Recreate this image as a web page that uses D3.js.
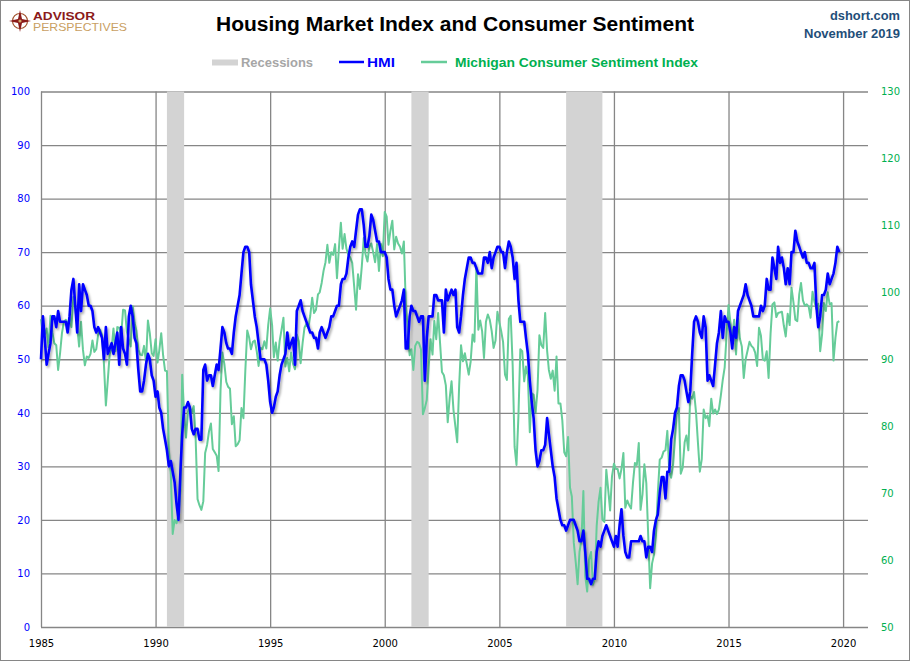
<!DOCTYPE html>
<html>
<head>
<meta charset="utf-8">
<script src="https://cdn.jsdelivr.net/npm/d3@7"></script>
<style>
  body { margin: 0; background: #fff; }
  svg { display: block; }
</style>
</head>
<body>
<svg id="chart"></svg>
<script>
// Housing Market Index vs Michigan Consumer Sentiment, monthly from Jan 1985

const W = 910, H = 661;
const START_YEAR = 1985;

// NAHB Housing Market Index (left axis), one row per year
const hmi = [
  50, 58, 54, 49, 51, 53, 58, 58, 56, 59, 57, 57,
  57, 57, 55, 58, 63, 65, 60, 55, 64, 59, 64, 63,
  62, 60, 60, 59, 56, 55, 56, 55, 54, 50, 56, 51,
  52, 53, 51, 53, 55, 49, 56, 52, 51, 49, 58, 60,
  58, 54, 53, 48, 44, 44, 46, 49, 51, 50, 47, 46,
  43, 44, 41, 40, 37, 35, 33, 30, 31, 29, 27, 23,
  20, 29, 36, 41, 41, 42, 41, 37, 36, 37, 37, 35,
  35, 48, 49, 46, 47, 47, 45, 47, 49, 48, 52, 56,
  55, 53, 52, 52, 51, 55, 58, 60, 62, 66, 70, 71,
  71, 70, 64, 61, 58, 56, 53, 50, 50, 50, 49, 46,
  42, 40, 41, 43, 44, 47, 49, 50, 51, 55, 52, 53,
  54, 49, 59, 60, 61, 59, 58, 57, 56, 55, 55, 54,
  54, 52, 55, 56, 55, 54, 55, 56, 58, 58, 59, 60,
  60, 64, 65, 65, 66, 69, 71, 72, 71, 74, 77, 78,
  78, 75, 71, 71, 73, 77, 76, 74, 72, 72, 70, 70,
  70, 69, 65, 63, 63, 60, 58, 59, 60, 61, 63, 52,
  52, 58, 60, 59, 59, 58, 57, 58, 58, 46, 54, 58,
  58, 58, 62, 62, 61, 61, 61, 55, 63, 61, 62, 63,
  62, 63, 56, 55, 58, 62, 65, 67, 69, 69, 68, 68,
  67, 66, 66, 66, 69, 69, 68, 70, 67, 69, 70, 71,
  71, 70, 70, 67, 70, 72, 71, 69, 65, 68, 61, 57,
  57, 57, 54, 51, 46, 42, 39, 33, 30, 31, 33, 33,
  34, 39, 36, 33, 30, 28, 24, 22, 20, 19, 19, 18,
  19, 20, 20, 20, 19, 18, 16, 16, 18, 14, 9, 9,
  8, 9, 9, 14, 16, 15, 17, 18, 19, 18, 17, 16,
  15, 17, 15, 19, 22, 17, 14, 13, 13, 16, 16, 16,
  16, 16, 17, 16, 16, 13, 15, 15, 14, 18, 20, 21,
  25, 28, 28, 24, 29, 29, 35, 37, 40, 41, 45, 47,
  47, 46, 44, 42, 44, 51, 57, 58, 57, 55, 54, 58,
  56, 46, 47, 46, 45, 49, 53, 55, 59, 54, 58, 57,
  57, 55, 52, 56, 54, 59, 60, 61, 62, 64, 62, 61,
  60, 58, 58, 58, 58, 60, 59, 60, 65, 63, 63, 69,
  67, 65, 71, 68, 69, 67, 64, 67, 64, 70, 70, 74,
  72, 71, 70, 69, 70, 68, 68, 67, 67, 68, 60, 56,
  58, 62, 62, 63, 66, 64, 65, 66, 68, 71, 70
];

// Michigan Consumer Sentiment Index (right axis)
const sentiment = [
  96.0, 93.7, 93.7, 94.6, 91.8, 96.5, 94.0, 92.4, 92.1, 88.4, 90.9, 93.9,
  95.6, 95.9, 95.1, 96.2, 94.8, 99.3, 97.7, 94.9, 91.9, 95.6, 91.4, 89.1,
  90.4, 90.2, 90.8, 92.8, 91.1, 91.5, 93.7, 94.4, 93.6, 89.3, 83.1, 86.8,
  90.8, 91.6, 94.6, 91.2, 94.8, 94.7, 93.4, 97.4, 97.3, 94.1, 93.0, 91.9,
  97.9, 95.4, 94.3, 91.5, 90.7, 90.6, 92.0, 89.6, 95.8, 93.9, 90.9, 90.5,
  93.0, 89.5, 91.3, 93.9, 90.6, 88.3, 88.2, 76.4, 72.8, 63.9, 66.0, 65.5,
  66.8, 70.4, 87.7, 81.8, 78.3, 82.1, 82.9, 82.0, 83.0, 78.3, 69.1, 68.2,
  67.5, 68.8, 76.0, 77.2, 79.2, 80.4, 76.6, 76.1, 75.6, 73.3, 85.3, 91.0,
  89.3, 86.6, 85.9, 85.6, 80.3, 81.5, 77.0, 77.3, 77.9, 82.7, 81.2, 88.2,
  94.3, 93.2, 91.5, 92.6, 92.8, 91.2, 89.0, 91.7, 91.5, 92.7, 91.6, 95.1,
  97.6, 95.1, 90.3, 92.5, 89.8, 92.7, 94.4, 96.2, 88.9, 90.2, 88.2, 91.0,
  89.3, 88.5, 93.7, 92.7, 89.4, 92.4, 94.7, 95.3, 94.7, 96.5, 99.2, 96.9,
  97.4, 99.7, 100.0, 101.4, 103.2, 104.5, 107.1, 104.4, 106.0, 105.6, 107.2, 102.1,
  106.6, 110.4, 106.5, 108.7, 106.5, 105.6, 105.2, 104.4, 100.9, 97.4, 102.7, 100.5,
  103.9, 108.1, 105.7, 104.6, 106.8, 107.3, 106.0, 104.5, 107.2, 103.2, 107.2, 105.4,
  112.0, 111.3, 107.1, 109.2, 110.7, 106.4, 108.3, 107.3, 106.8, 105.8, 107.6, 98.4,
  94.7, 90.6, 91.5, 88.4, 92.0, 92.6, 92.4, 91.5, 81.8, 82.7, 83.9, 88.8,
  93.0, 90.7, 95.7, 93.0, 96.9, 92.4, 88.1, 87.6, 86.1, 80.6, 84.2, 86.7,
  82.4, 79.9, 77.6, 86.0, 92.1, 89.7, 90.9, 89.3, 87.7, 89.6, 93.7, 92.6,
  103.8, 94.4, 95.8, 94.2, 90.2, 95.6, 96.7, 95.9, 94.2, 91.7, 92.8, 97.1,
  95.5, 94.1, 92.6, 87.7, 86.9, 96.0, 96.5, 89.1, 76.9, 74.2, 81.6, 91.5,
  91.2, 86.7, 88.9, 87.4, 79.1, 84.9, 84.7, 82.0, 85.4, 93.6, 92.1, 91.7,
  96.9, 91.3, 88.4, 87.1, 88.3, 85.3, 90.4, 83.4, 83.4, 80.9, 76.1, 75.5,
  78.4, 70.8, 69.5, 62.6, 59.8, 56.4, 61.2, 63.0, 70.3, 57.6, 55.3, 60.1,
  61.2, 56.3, 57.3, 65.1, 68.7, 70.8, 66.0, 65.7, 73.5, 70.6, 67.4, 72.5,
  74.4, 73.6, 73.6, 72.2, 73.6, 76.0, 67.8, 68.9, 68.2, 67.7, 71.6, 74.5,
  74.2, 77.5, 67.5, 69.8, 74.3, 71.5, 63.7, 55.8, 59.5, 60.8, 63.7, 69.9,
  75.0, 75.3, 76.2, 76.4, 79.3, 73.2, 72.3, 74.3, 78.3, 82.6, 82.7, 72.9,
  73.8, 77.6, 78.6, 76.4, 84.5, 84.1, 85.1, 82.1, 77.5, 73.2, 75.1, 82.5,
  81.2, 81.6, 80.0, 84.1, 81.9, 82.5, 81.8, 82.5, 84.6, 86.9, 88.8, 93.6,
  98.1, 95.4, 93.0, 95.9, 90.7, 96.1, 93.1, 91.9, 87.2, 90.0, 91.3, 92.6,
  92.0, 91.7, 91.0, 89.0, 94.7, 93.5, 90.0, 89.8, 91.2, 87.2, 93.8, 98.2,
  98.5, 96.3, 96.9, 97.0, 97.1, 95.0, 93.4, 96.8, 95.1, 100.7, 98.5, 95.9,
  95.7, 99.7, 101.4, 98.8, 98.0, 98.2, 97.9, 96.2, 100.1, 98.6, 97.5, 98.3,
  91.2, 93.8, 98.4, 97.2, 100.0, 98.2, 98.4, 89.8, 93.2, 95.5, 95.7
];

// Recession shading [start, end)
const recessions = [
  ["1990-07-01", "1991-04-01"],
  ["2001-03-01", "2001-12-01"],
  ["2007-12-01", "2009-07-01"]
];

const yearTicks = [1985, 1990, 1995, 2000, 2005, 2010, 2015, 2020];
const leftTicks = [0, 10, 20, 30, 40, 50, 60, 70, 80, 90, 100];
const rightTicks = [50, 60, 70, 80, 90, 100, 110, 120, 130];

const GRID = "#868686";
const BLUE = "#0000ff";
const GREEN_LINE = "#66cc99";
const GREEN_TEXT = "#00b050";
const NUM_FONT = "DejaVu Sans, Verdana, sans-serif";
const LABEL_FONT = "Liberation Sans, Arial, sans-serif";

const plot = { left: 41, right: 868, top: 91.5, bottom: 627 };

const svg = d3.select("#chart")
    .attr("width", W)
    .attr("height", H);

svg.append("rect")
    .attr("x", 0.5).attr("y", 0.5)
    .attr("width", W - 1).attr("height", H - 1)
    .attr("fill", "#fff")
    .attr("stroke", GRID)
    .attr("stroke-width", 1);

// Drop shadow for the HMI line
const defs = svg.append("defs");
defs.append("filter")
    .attr("id", "shadow")
    .attr("x", "-5%").attr("y", "-5%")
    .attr("width", "110%").attr("height", "110%")
    .append("feDropShadow")
    .attr("dx", 1.5).attr("dy", 2)
    .attr("stdDeviation", 1.2)
    .attr("flood-color", "#000")
    .attr("flood-opacity", 0.35);

const x = d3.scaleTime()
    .domain([new Date(1985, 0, 1), new Date(2021, 1, 1)])
    .range([plot.left, plot.right]);

const yL = d3.scaleLinear().domain([0, 100]).range([plot.bottom, plot.top]);
const yR = d3.scaleLinear().domain([50, 130]).range([plot.bottom, plot.top]);

const monthDate = i => new Date(START_YEAR, i, 1);
const yearDate = yr => new Date(yr, 0, 1);

// Horizontal gridlines
const gy = svg.append("g")
    .attr("transform", `translate(${plot.left},0)`)
    .call(d3.axisLeft(yL).tickValues(leftTicks)
        .tickSize(-(plot.right - plot.left)).tickFormat(""));
gy.select(".domain").remove();
gy.selectAll("line").attr("stroke", GRID).attr("stroke-width", 1.3);

// Vertical gridlines
const gx = svg.append("g")
    .attr("transform", `translate(0,${plot.bottom})`)
    .call(d3.axisBottom(x).tickValues(yearTicks.map(yearDate))
        .tickSize(-(plot.bottom - plot.top)).tickFormat(""));
gx.select(".domain").remove();
gx.selectAll("line").attr("stroke", GRID).attr("stroke-width", 1.3);

// Recession bars
svg.append("g")
    .selectAll("rect")
    .data(recessions)
    .join("rect")
    .attr("x", d => x(new Date(d[0])))
    .attr("width", d => x(new Date(d[1])) - x(new Date(d[0])))
    .attr("y", plot.top)
    .attr("height", plot.bottom - plot.top)
    .attr("fill", "#d3d3d3");

// Series lines
const sentLine = d3.line()
    .x((d, i) => x(monthDate(i)))
    .y(d => yR(d));

const hmiLine = d3.line()
    .x((d, i) => x(monthDate(i)))
    .y(d => yL(d));

svg.append("path")
    .datum(sentiment)
    .attr("d", sentLine)
    .attr("fill", "none")
    .attr("stroke", GREEN_LINE)
    .attr("stroke-width", 2)
    .attr("stroke-linejoin", "round");

svg.append("path")
    .datum(hmi)
    .attr("d", hmiLine)
    .attr("fill", "none")
    .attr("stroke", BLUE)
    .attr("stroke-width", 2.6)
    .attr("stroke-linejoin", "round")
    .attr("filter", "url(#shadow)");

// Axis labels
function styleAxis(g, color) {
    g.select(".domain").remove();
    g.selectAll("line").remove();
    g.selectAll("text")
        .attr("font-family", NUM_FONT)
        .attr("font-size", "10px")
        .attr("fill", color);
}

svg.append("g")
    .attr("transform", `translate(${plot.left},0)`)
    .call(d3.axisLeft(yL).tickValues(leftTicks).tickSize(0).tickPadding(11))
    .call(g => styleAxis(g, BLUE));

svg.append("g")
    .attr("transform", `translate(${plot.right},0)`)
    .call(d3.axisRight(yR).tickValues(rightTicks).tickSize(0).tickPadding(13))
    .call(g => styleAxis(g, GREEN_TEXT));

svg.append("g")
    .attr("transform", `translate(0,${plot.bottom})`)
    .call(d3.axisBottom(x).tickValues(yearTicks.map(yearDate))
        .tickSize(0).tickPadding(13).tickFormat(d3.timeFormat("%Y")))
    .call(g => styleAxis(g, "#000"));

// Title
svg.append("text")
    .attr("x", 216).attr("y", 31)
    .attr("font-family", LABEL_FONT)
    .attr("font-weight", "bold")
    .attr("font-size", "20px")
    .attr("textLength", 478)
    .attr("lengthAdjust", "spacingAndGlyphs")
    .attr("fill", "#000")
    .text("Housing Market Index and Consumer Sentiment");

// Top-right source and date
svg.append("text")
    .attr("x", 900).attr("y", 20)
    .attr("text-anchor", "end")
    .attr("font-family", LABEL_FONT)
    .attr("font-weight", "bold")
    .attr("font-size", "13px")
    .attr("textLength", 70)
    .attr("lengthAdjust", "spacingAndGlyphs")
    .attr("fill", "#1f4e79")
    .text("dshort.com");

svg.append("text")
    .attr("x", 900).attr("y", 38)
    .attr("text-anchor", "end")
    .attr("font-family", LABEL_FONT)
    .attr("font-weight", "bold")
    .attr("font-size", "13px")
    .attr("textLength", 96)
    .attr("lengthAdjust", "spacingAndGlyphs")
    .attr("fill", "#1f4e79")
    .text("November 2019");

// Logo
const logo = svg.append("g");
logo.append("circle")
    .attr("cx", 20).attr("cy", 21).attr("r", 7.5)
    .attr("fill", "none")
    .attr("stroke", "#a0522d")
    .attr("stroke-width", 1.2);
logo.append("path")
    .attr("d", "M20,10 L22,19 L31,21 L22,23 L20,32 L18,23 L9,21 L18,19 Z")
    .attr("fill", "#8b1a1a");
logo.append("circle")
    .attr("cx", 20).attr("cy", 21).attr("r", 1.6)
    .attr("fill", "#d4a868");
logo.append("text")
    .attr("x", 33).attr("y", 20)
    .attr("font-family", LABEL_FONT)
    .attr("font-weight", "bold")
    .attr("font-size", "11.5px")
    .attr("textLength", 62)
    .attr("lengthAdjust", "spacingAndGlyphs")
    .attr("fill", "#8b1a1a")
    .text("ADVISOR");
logo.append("text")
    .attr("x", 33).attr("y", 31)
    .attr("font-family", LABEL_FONT)
    .attr("font-size", "11.5px")
    .attr("textLength", 94)
    .attr("lengthAdjust", "spacingAndGlyphs")
    .attr("fill", "#c9a063")
    .text("PERSPECTIVES");

// Legend
const legend = svg.append("g").attr("font-family", LABEL_FONT)
    .attr("font-weight", "bold").attr("font-size", "13px");

legend.append("rect")
    .attr("x", 212).attr("y", 59.5)
    .attr("width", 26).attr("height", 6)
    .attr("fill", "#d3d3d3");
legend.append("text")
    .attr("x", 241).attr("y", 67)
    .attr("textLength", 72).attr("lengthAdjust", "spacingAndGlyphs")
    .attr("fill", "#a6a6a6")
    .text("Recessions");

legend.append("line")
    .attr("x1", 339).attr("x2", 364).attr("y1", 62).attr("y2", 62)
    .attr("stroke", BLUE).attr("stroke-width", 2.5);
legend.append("text")
    .attr("x", 367).attr("y", 67)
    .attr("textLength", 28).attr("lengthAdjust", "spacingAndGlyphs")
    .attr("fill", BLUE)
    .text("HMI");

legend.append("line")
    .attr("x1", 421).attr("x2", 447).attr("y1", 62).attr("y2", 62)
    .attr("stroke", GREEN_LINE).attr("stroke-width", 2.5);
legend.append("text")
    .attr("x", 455).attr("y", 67)
    .attr("textLength", 243).attr("lengthAdjust", "spacingAndGlyphs")
    .attr("fill", GREEN_TEXT)
    .text("Michigan Consumer Sentiment Index");
</script>
</body>
</html>
